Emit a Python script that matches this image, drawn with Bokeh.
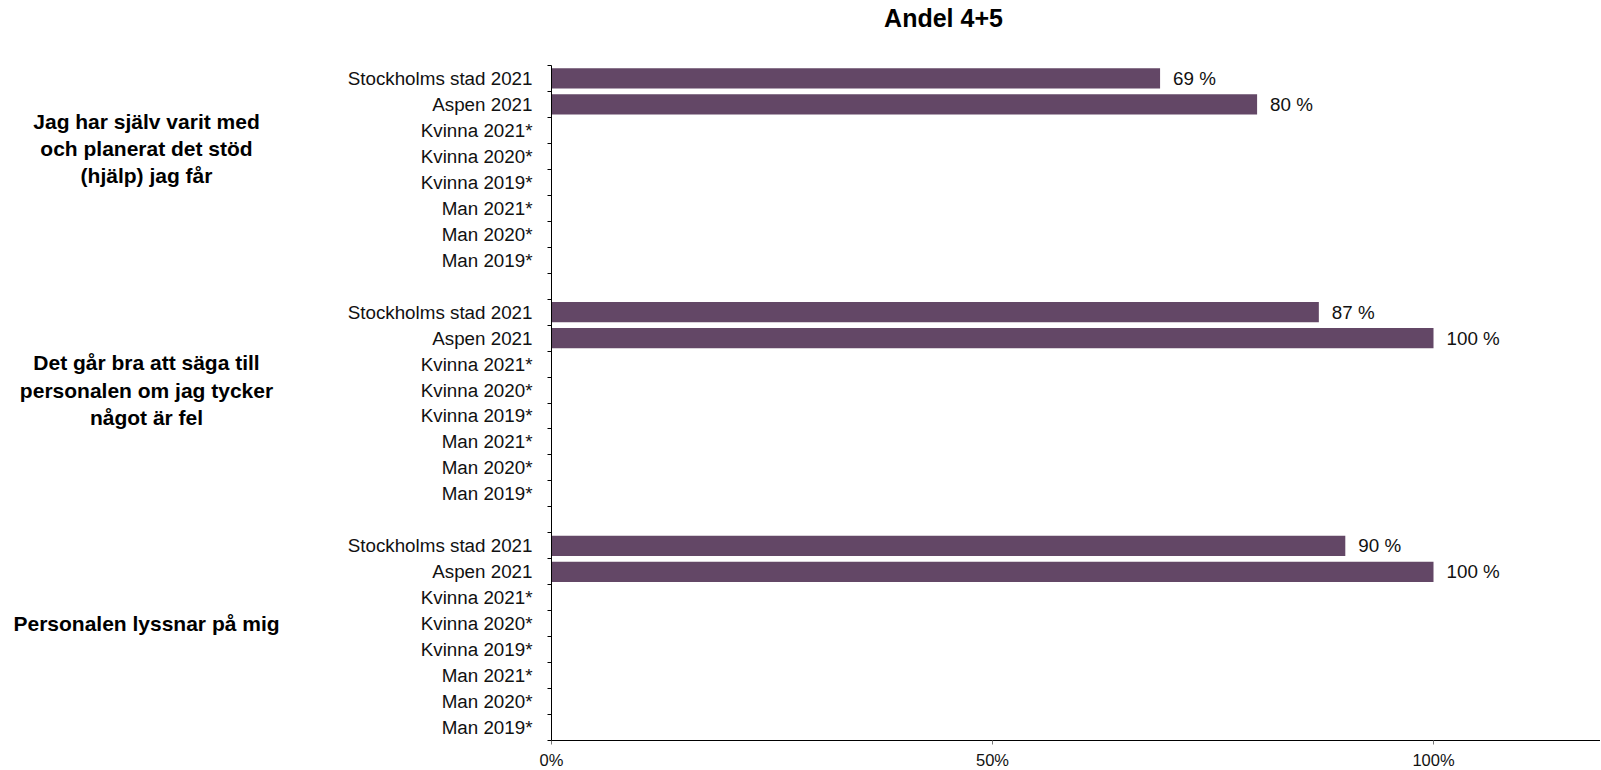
from bokeh.plotting import figure
from bokeh.layouts import row
from bokeh.models import ColumnDataSource, Range1d, FixedTicker, Label
from bokeh.embed import file_html
from bokeh.resources import INLINE
from bokeh.core.properties import value

# ---------------- data ----------------
title_text = "Andel 4+5"
statements = [
    "Jag har själv varit med\noch planerat det stöd\n(hjälp) jag får",
    "Det går bra att säga till\npersonalen om jag tycker\nnågot är fel",
    "Personalen lyssnar på mig",
]
categories = ["Stockholms stad 2021", "Aspen 2021", "Kvinna 2021*", "Kvinna 2020*",
              "Kvinna 2019*", "Man 2021*", "Man 2020*", "Man 2019*"]
values_s1 = [0.69, 0.80, None, None, None, None, None, None]
values_s2 = [0.87, 1.00, None, None, None, None, None, None]
values_s3 = [0.90, 1.00, None, None, None, None, None, None]
series = [values_s1, values_s2, values_s3]
x_ticks = [0.0, 0.5, 1.0]
x_tick_labels = ["0%", "50%", "100%"]

# ---------------- layout / style ----------------
FONT = "Liberation Sans"
BAR_COLOR = "#634766"
n_cat = len(categories)
step = n_cat + 1
n_slots = len(statements) * step - 1

ys, rights, labels = [], [], []
tick_pos, tick_over = [], {}
for g, vals in enumerate(series):
    for i, (cat, v) in enumerate(zip(categories, vals)):
        y = g * step + i + 0.5
        tick_pos.append(y)
        tick_over[y] = cat
        if v is not None:
            ys.append(y)
            rights.append(v)
            labels.append(f"{round(v * 100)} %")
src = ColumnDataSource(dict(y=ys, right=rights, label=labels))

group_dy = [-0.8, -0.5, -0.5]
gsrc = ColumnDataSource(dict(
    y=[g * step + n_cat / 2 + group_dy[g] for g in range(len(statements))],
    text=statements))

PX_PER_UNIT = 882
AXIS_TOP = 65          # page y where the category axis starts
TOP = 4                # page y where the frame starts (room for the title)
AXIS_H = 675
BOTTOM = 29
LEFT_W = 300
MAIN_BORDER_LEFT = 251
MAIN_W = 1300
frame_w = MAIN_W - MAIN_BORDER_LEFT
slot_px = AXIS_H / n_slots
FRAME_H = AXIS_H + (AXIS_TOP - TOP)
y_top = -(AXIS_TOP - TOP) / slot_px

y_range = Range1d(n_slots, y_top)

# left panel with statement labels
pl = figure(width=LEFT_W, frame_width=LEFT_W, frame_height=FRAME_H,
            output_backend="svg", toolbar_location=None,
            x_range=Range1d(0, LEFT_W), y_range=y_range,
            x_axis_location=None, y_axis_location=None,
            min_border_left=0, min_border_right=0, min_border_top=TOP,
            min_border_bottom=BOTTOM)
pl.outline_line_color = None
pl.grid.visible = False
pl.text(x=146, y="y", text="text", source=gsrc,
        text_font=value(FONT), text_font_style="bold", text_font_size="21px",
        text_align="center", text_baseline="middle", text_line_height=1.18,
        text_color="#000000")

# main chart
p = figure(width=MAIN_W, frame_width=frame_w, frame_height=FRAME_H,
           output_backend="svg", toolbar_location=None,
           x_range=Range1d(0, frame_w / PX_PER_UNIT), y_range=y_range,
           min_border_left=MAIN_BORDER_LEFT, min_border_right=0, min_border_top=TOP,
           min_border_bottom=BOTTOM)
p.outline_line_color = None
p.grid.visible = False

p.hbar(y="y", left=0, right="right", height=0.78, source=src,
       fill_color=BAR_COLOR, line_color=None)
p.text(x="right", y="y", text="label", source=src, x_offset=13,
       text_font=value(FONT), text_font_size="18.8px", text_color="#111111",
       text_baseline="middle", text_align="left")

ya = p.yaxis[0]
ya.bounds = (0, n_slots)
ya.ticker = FixedTicker(ticks=tick_pos, minor_ticks=list(range(0, n_slots + 1)))
ya.major_label_overrides = tick_over
ya.major_tick_out = 0
ya.major_tick_in = 0
ya.major_tick_line_color = None
ya.minor_tick_out = 4
ya.minor_tick_in = 0
ya.minor_tick_line_color = "black"
ya.axis_line_color = "black"
ya.major_label_standoff = 15
ya.major_label_text_font = FONT
ya.major_label_text_font_size = "18.8px"
ya.major_label_text_color = "#111111"

xa = p.xaxis[0]
xa.ticker = FixedTicker(ticks=x_ticks)
xa.major_label_overrides = {t: l for t, l in zip(x_ticks, x_tick_labels)}
xa.major_tick_out = 4
xa.major_tick_in = 0
xa.major_tick_line_color = "#777777"
xa.minor_tick_line_color = None
xa.axis_line_color = "black"
xa.major_label_standoff = 6
xa.major_label_text_font = FONT
xa.major_label_text_font_size = "16.5px"
xa.major_label_text_color = "#111111"

# title, placed in the free band above the category axis
p.add_layout(Label(x=(943 - (LEFT_W + MAIN_BORDER_LEFT)) / PX_PER_UNIT,
                   y=-(AXIS_TOP - 17) / slot_px, text=title_text,
                   text_font=FONT, text_font_style="bold", text_font_size="25px",
                   text_align="center", text_baseline="middle", text_color="#000000"))

layout = row(pl, p, spacing=0)
open("out.html", "w").write(file_html(layout, INLINE))
